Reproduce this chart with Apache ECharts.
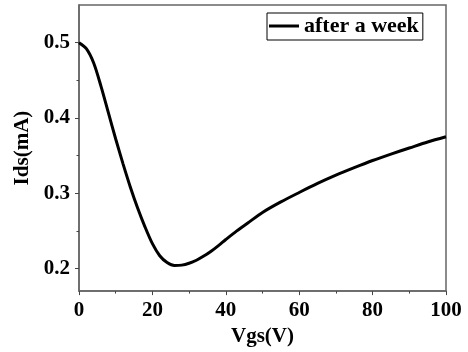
<!DOCTYPE html>
<html>
<head>
<meta charset="utf-8">
<script src="https://cdn.jsdelivr.net/npm/echarts@6/dist/echarts.min.js"></script>
<style>
  html, body { margin: 0; padding: 0; background: #fff; }
  #chart { width: 468px; height: 352px; }
</style>
</head>
<body>
<div id="chart"></div>
<script>
// values
const vgs = [0, 2, 4, 6, 8, 10, 12, 14, 16, 18, 20, 22, 24, 26, 28, 30, 32, 34, 36, 38, 40, 43, 46, 50, 55, 60, 65, 70, 75, 80, 85, 90, 95, 100];
const ids = [0.500, 0.492, 0.473, 0.442, 0.407, 0.372, 0.339, 0.308, 0.280, 0.255, 0.233, 0.217, 0.208, 0.204, 0.2045, 0.207, 0.211, 0.2165, 0.223, 0.2305, 0.2385, 0.250, 0.2605, 0.2745, 0.2885, 0.301, 0.313, 0.324, 0.334, 0.3435, 0.352, 0.360, 0.368, 0.375];
const yMajor = [0.2, 0.3, 0.4, 0.5];
const yMinor = [0.25, 0.35, 0.45];
const seriesName = 'after a week';

const font = 'Liberation Serif';
const chart = echarts.init(document.getElementById('chart'));

chart.setOption({
  animation: false,
  grid: {
    left: 79, right: 22, top: 5, bottom: 60,
    show: true, borderColor: '#666', borderWidth: 1.5, backgroundColor: 'transparent'
  },
  legend: {
    left: 267, top: 13,
    padding: [2, 4, 3, 2],
    itemWidth: 30, itemHeight: 3,
    borderColor: '#000', borderWidth: 1, borderRadius: 0,
    textStyle: { fontFamily: font, fontWeight: 'bold', fontSize: 22, color: '#000' },
    data: [{ name: seriesName, icon: 'rect' }]
  },
  xAxis: {
    type: 'value', min: 0, max: 100, interval: 20,
    name: 'Vgs(V)', nameLocation: 'middle', nameGap: 30,
    nameTextStyle: { fontFamily: font, fontWeight: 'bold', fontSize: 21, color: '#000' },
    axisLine: { lineStyle: { color: '#666', width: 1.5 } },
    axisTick: { length: 4, lineStyle: { color: '#444' } },
    minorTick: { show: true, splitNumber: 2, length: 2.5, lineStyle: { color: '#444' } },
    splitLine: { show: false },
    axisLabel: { margin: 9, fontFamily: font, fontWeight: 'bold', fontSize: 21, color: '#000' }
  },
  yAxis: [{
    type: 'value', min: 0.17, max: 0.55,
    name: 'Ids(mA)', nameLocation: 'middle', nameGap: 43,
    nameTextStyle: { fontFamily: font, fontWeight: 'bold', fontSize: 21, color: '#000' },
    axisLine: { show: true, lineStyle: { color: '#666', width: 1.5 } },
    axisTick: { show: true, length: 4, customValues: yMajor, lineStyle: { color: '#444' } },
    splitLine: { show: false },
    axisLabel: {
      customValues: yMajor, margin: 9,
      fontFamily: font, fontWeight: 'bold', fontSize: 21, color: '#000',
      formatter: v => v.toFixed(1)
    }
  }, {
    type: 'value', min: 0.17, max: 0.55, position: 'left',
    axisLine: { show: false },
    axisTick: { show: true, length: 2.5, customValues: yMinor, lineStyle: { color: '#444' } },
    axisLabel: { show: false },
    splitLine: { show: false }
  }],
  series: [{
    name: seriesName,
    type: 'line',
    yAxisIndex: 0,
    symbol: 'none',
    smooth: 0.3,
    lineStyle: { color: '#000', width: 3 },
    itemStyle: { color: '#000' },
    data: vgs.map((v, i) => [v, ids[i]])
  }]
});
</script>
</body>
</html>
